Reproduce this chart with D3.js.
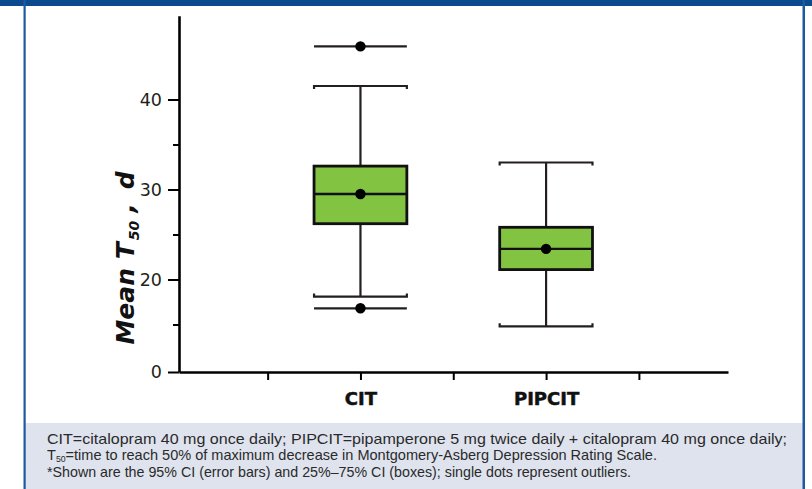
<!DOCTYPE html>
<html><head><meta charset="utf-8">
<script src="https://cdn.jsdelivr.net/npm/d3@7"></script>
<style>body{margin:0;background:#fff;overflow:hidden}</style>
</head><body><svg id="c" width="812" height="489"></svg>
<script>
// ---- data ----
const categories = ["CIT", "PIPCIT"];
const whiskerHigh = [41.5, 33.0];
const q3 = [32.6, 25.8];
const median = [29.5, 23.4];
const meanVal = [29.5, 23.4];
const q1 = [26.2, 21.1];
const whiskerLow = [18.1, 14.8];
const outliers = [[45.9, 16.8], []];
const yTickValues = [0, 20, 30, 40];
const yMinorTicks = [15, 25, 35];
const xTickSlots = [1, 2, 3, 4, 5];
const categorySlots = [2, 4];
const yLabelParts = ["Mean T", "50", ",", "d"];
const captionLines = [
  [["CIT=citalopram 40 mg once daily; PIPCIT=pipamperone 5 mg twice daily + citalopram 40 mg once daily;", false]],
  [["T", false], ["50", true], ["=time to reach 50% of maximum decrease in Montgomery-Asberg Depression Rating Scale.", false]],
  [["*Shown are the 95% CI (error bars) and 25%\u201375% CI (boxes); single dots represent outliers.", false]]
];
const captionWidths = [740, 610, 584];

// ---- drawing ----
const svg = d3.select("#c");
const W = 812, H = 489;
const blue = "#0b4a8f", ink = "#231f20", green = "#82c341";

svg.append("rect").attr("x", 0).attr("y", 0).attr("width", W).attr("height", H).attr("fill", "#fff");
svg.append("rect").attr("x", 25).attr("y", 423).attr("width", 778).attr("height", 66).attr("fill", "#dee3ee");
svg.append("rect").attr("x", 0).attr("y", 0).attr("width", W).attr("height", 6).attr("fill", blue);
svg.append("rect").attr("x", 23.5).attr("y", 0).attr("width", 2.2).attr("height", H).attr("fill", "#1c5aa0");
svg.append("rect").attr("x", 802.5).attr("y", 0).attr("width", 2.5).attr("height", H).attr("fill", "#1c5aa0");

const y = d3.scaleLinear().domain([0, 14, 49.3]).range([372, 333.5, 15.8]);
const x = d3.scaleLinear().domain([0.045, 5.96]).range([179, 728]);
const boxW = x(1) - x(0);

const gy = svg.append("g").attr("transform", `translate(${x.range()[0]},0)`)
  .call(d3.axisLeft(y).tickValues(yTickValues).tickSize(11).tickSizeOuter(0).tickPadding(6).tickFormat(d3.format("d")));
gy.select(".domain").attr("stroke", "#000").attr("stroke-width", 2.6);
gy.selectAll(".tick line").attr("stroke", "#000").attr("stroke-width", 2);
gy.selectAll(".tick text").attr("font-family", "DejaVu Sans").attr("font-size", 17.5).attr("fill", ink);
const gym = svg.append("g").attr("transform", `translate(${x.range()[0]},0)`)
  .call(d3.axisLeft(y).tickValues(yMinorTicks).tickSize(6).tickFormat(""));
gym.select(".domain").remove();
gym.selectAll(".tick line").attr("stroke", "#000").attr("stroke-width", 2);

const gx = svg.append("g").attr("transform", `translate(0,${y(0)})`)
  .call(d3.axisBottom(x).tickValues(xTickSlots).tickSize(8).tickSizeOuter(0).tickPadding(12)
    .tickFormat(d => { const i = categorySlots.indexOf(d); return i >= 0 ? categories[i] : ""; }));
gx.select(".domain").attr("stroke", "#000").attr("stroke-width", 2.6);
gx.selectAll(".tick line").attr("stroke", "#000").attr("stroke-width", 2);
gx.selectAll(".tick text").attr("font-family", "DejaVu Sans").attr("font-weight", "bold")
  .attr("font-size", 18).attr("fill", "#111").attr("stroke", "#111").attr("stroke-width", 0.5);

// y label
const yl = svg.append("text").attr("transform", "translate(134,258) rotate(-90)")
  .attr("text-anchor", "middle").attr("font-family", "DejaVu Sans").attr("font-weight", "bold")
  .attr("font-style", "italic").attr("font-size", 25).attr("fill", "#111");
yl.append("tspan").text(yLabelParts[0]);
yl.append("tspan").attr("font-size", 14).attr("dy", 5).attr("dx", 2).text(yLabelParts[1]);
yl.append("tspan").attr("dy", -5).attr("dx", 8).text(yLabelParts[2]);
yl.append("tspan").attr("dx", 14).text(yLabelParts[3]);

// boxes
const data = categories.map((c, i) => ({
  c, cx: x(categorySlots[i]), hi: whiskerHigh[i], q3: q3[i], med: median[i], mean: meanVal[i], q1: q1[i], lo: whiskerLow[i], out: outliers[i]
}));
const g = svg.append("g");
data.forEach(d => {
  const l = d.cx - boxW / 2, r = d.cx + boxW / 2;
  g.append("line").attr("x1", d.cx).attr("x2", d.cx).attr("y1", y(d.hi)).attr("y2", y(d.lo))
    .attr("stroke", ink).attr("stroke-width", 2.2);
  [[d.hi, 1], [d.lo, -1]].forEach(([v, dir]) => {
    g.append("path").attr("d", `M${l},${y(v) + 3 * dir}V${y(v)}H${r}V${y(v) + 3 * dir}`)
      .attr("fill", "none").attr("stroke", ink).attr("stroke-width", 2.2);
  });
  g.append("rect").attr("x", l).attr("y", y(d.q3)).attr("width", boxW).attr("height", y(d.q1) - y(d.q3))
    .attr("fill", green).attr("stroke", "#111").attr("stroke-width", 2.8);
  g.append("line").attr("x1", l).attr("x2", r).attr("y1", y(d.med)).attr("y2", y(d.med))
    .attr("stroke", "#111").attr("stroke-width", 2.4);
  g.append("circle").attr("cx", d.cx).attr("cy", y(d.mean)).attr("r", 5.2).attr("fill", "#000");
  d.out.forEach(v => {
    g.append("line").attr("x1", l).attr("x2", r).attr("y1", y(v)).attr("y2", y(v))
      .attr("stroke", ink).attr("stroke-width", 2.2);
    g.append("circle").attr("cx", d.cx).attr("cy", y(v)).attr("r", 5.2).attr("fill", "#000");
  });
});

// caption
const baselines = [444, 460, 477];
captionLines.forEach((parts, i) => {
  const t = svg.append("text").attr("x", 47).attr("y", baselines[i])
    .attr("font-family", "Liberation Sans").attr("font-size", 15).attr("fill", "#2a2a2a")
    .attr("textLength", captionWidths[i]).attr("lengthAdjust", "spacingAndGlyphs");
  let sub = false;
  parts.forEach(([s, isSub]) => {
    const ts = t.append("tspan").text(s);
    if (isSub && !sub) { ts.attr("font-size", 9).attr("dy", 1.5); sub = true; }
    else if (!isSub && sub) { ts.attr("dy", -1.5); sub = false; }
  });
});
</script></body></html>
